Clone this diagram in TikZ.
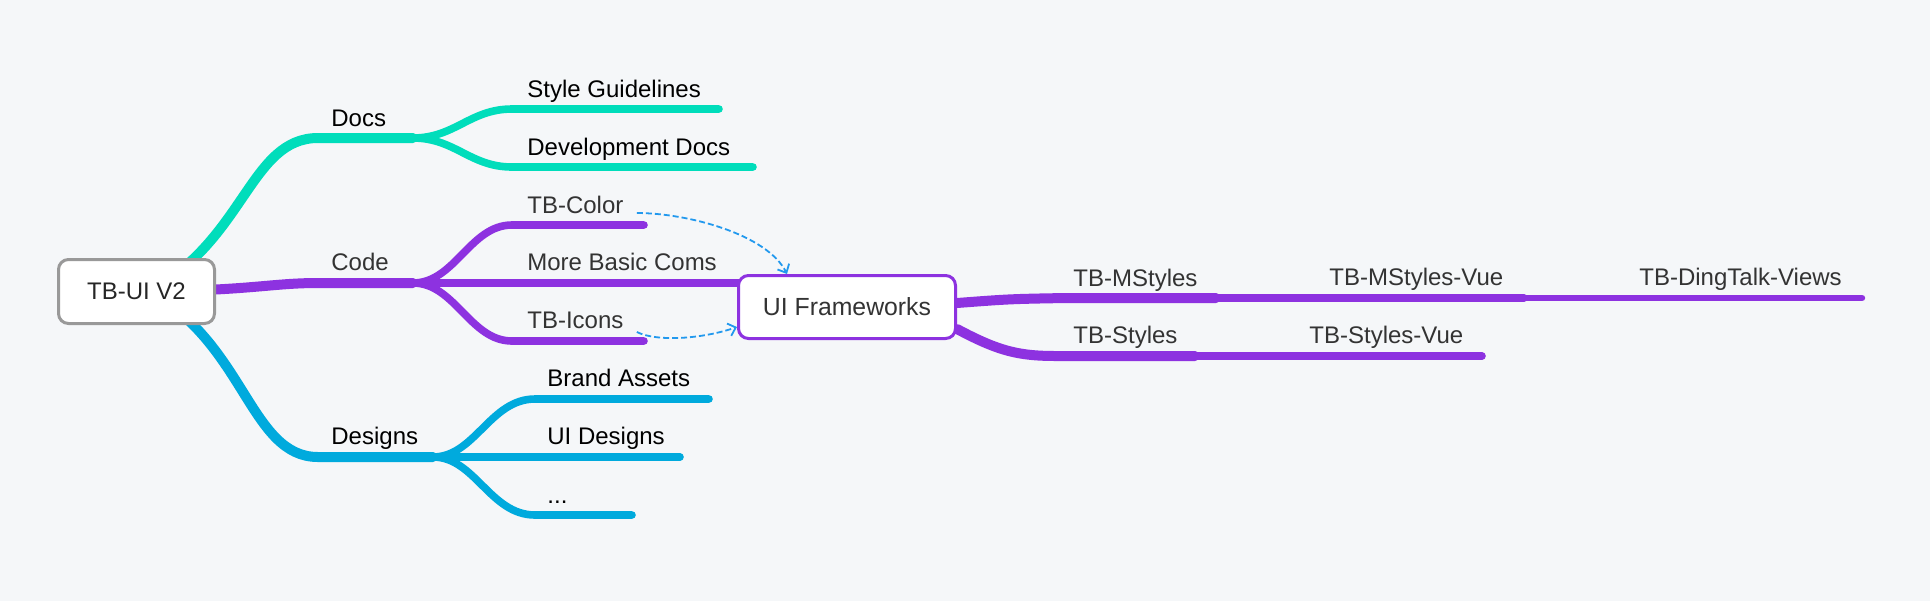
\documentclass[tikz,border=0pt]{standalone}
\usepackage{fontspec}
\setmainfont{Liberation Sans}
\usepackage{tikz}
\usetikzlibrary{arrows.meta,backgrounds}
\usepackage{xcolor}
\definecolor{bgcol}{HTML}{F5F7F9}
\definecolor{docscol}{HTML}{00DDBB}
\definecolor{codecol}{HTML}{8D32E0}
\definecolor{designcol}{HTML}{00AADD}
\definecolor{linkcol}{HTML}{2299EE}
\definecolor{textcol}{HTML}{333333}

\begin{document}
\begin{tikzpicture}[
    x=0.5pt, y=-0.5pt,
    rootbox/.style={draw=gray!80, fill=white, line width=1.5pt, rounded corners=5pt,
        minimum width=78pt, minimum height=32pt, align=center,
        font=\fontsize{12}{14}\selectfont, text=black!85},
    framebox/.style={draw=codecol, fill=white, line width=1.5pt, rounded corners=5pt,
        minimum width=108.5pt, minimum height=31.5pt, align=center,
        font=\fontsize{12.4}{14}\selectfont, text=textcol},
    lbl/.style={anchor=base west, inner sep=0pt, font=\fontsize{12}{14}\selectfont},
    lvlone/.style={line width=5pt, line cap=round},
    lvltwo/.style={line width=3.8pt, line cap=round},
    lvlthree/.style={line width=3.2pt, line cap=round},
    relarrow/.style={draw=linkcol, line width=0.9pt, dash pattern=on 3pt off 1.5pt,
        -{Straight Barb[length=3.5pt, width=6.5pt]}},
]
\useasboundingbox (0,0) rectangle (1930,601);

% Central topics
\node[rootbox] (root) at (136.5,291.5) {TB-UI V2};
\node[framebox] (frame) at (847,307) {UI Frameworks};

% Main branches
\node[lbl] (docs) at (331,126) {Docs};
\node[lbl, text=textcol] (code) at (331,270) {Code};
\node[lbl] (designs) at (331,444) {Designs};

% Docs
\node[lbl] (style) at (527,97) {Style Guidelines};
\node[lbl] (devdocs) at (527,155) {Development Docs};

% Code
\node[lbl, text=textcol] (tbcolor) at (527,213) {TB-Color};
\node[lbl, text=textcol] (basic) at (527,270) {More Basic Coms};
\node[lbl, text=textcol] (tbicons) at (527,328) {TB-Icons};

% Designs
\node[lbl] (brand) at (547,386) {Brand Assets};
\node[lbl] (uidesign) at (547,444) {UI Designs};
\node[lbl] (dots) at (547,503) {...};

% Frameworks
\node[lbl, text=textcol] (mstyles) at (1073,286) {TB-MStyles};
\node[lbl, text=textcol] (mstylesvue) at (1329,285) {TB-MStyles-Vue};
\node[lbl, text=textcol] (dingtalk) at (1639,285) {TB-DingTalk-Views};
\node[lbl, text=textcol] (styles) at (1073,343) {TB-Styles};
\node[lbl, text=textcol] (stylesvue) at (1309,343) {TB-Styles-Vue};

% Line ends
\coordinate (docsL) at (318,138);
\coordinate (docsF) at (413,138);
\coordinate (styleL) at (512,109);
\coordinate (styleR) at (719,109);
\coordinate (devL) at (512,167);
\coordinate (devR) at (753,167);
\coordinate (codeL) at (318,283);
\coordinate (codeF) at (413,283);
\coordinate (colorL) at (512,225);
\coordinate (colorR) at (644,225);
\coordinate (iconsL) at (512,341);
\coordinate (iconsR) at (644,341);
\coordinate (designsL) at (318,457);
\coordinate (designsF) at (433,457);
\coordinate (brandL) at (535,399);
\coordinate (brandR) at (709,399);
\coordinate (uidR) at (680,457);
\coordinate (dotsL) at (535,515);
\coordinate (dotsR) at (632,515);
\coordinate (msL) at (1066,298);
\coordinate (msR) at (1216,298);
\coordinate (msvR) at (1524,298);
\coordinate (dtR) at (1862,298);
\coordinate (stL) at (1057,356);
\coordinate (stR) at (1195,356);
\coordinate (stvR) at (1482,356);

% Branches
\begin{scope}[on background layer]
\fill[bgcol] (0,0) rectangle (1930,601);
\draw[lvlone, docscol] ([xshift=6pt]root.center) .. controls (245,240) and (250,138) .. (docsL) -- (docsF);
\draw[lvlone, codecol] (root.center) .. controls (250,291) and (270,283) .. (codeL) -- (codeF);
\draw[lvlone, designcol] ([xshift=6pt]root.center) .. controls (245,343) and (250,457) .. (designsL) -- (designsF);
\draw[lvltwo, docscol] (docsF) .. controls (455,138) and (470,109) .. (styleL) -- (styleR);
\draw[lvltwo, docscol] (docsF) .. controls (455,138) and (470,167) .. (devL) -- (devR);
\draw[lvltwo, codecol] (codeF) .. controls (455,283) and (470,225) .. (colorL) -- (colorR);
\draw[lvltwo, codecol] (codeF) -- (codeF -| frame.center);
\draw[lvltwo, codecol] (codeF) .. controls (455,283) and (470,341) .. (iconsL) -- (iconsR);
\draw[lvltwo, designcol] (designsF) .. controls (475,457) and (490,399) .. (brandL) -- (brandR);
\draw[lvltwo, designcol] (designsF) -- (uidR);
\draw[lvltwo, designcol] (designsF) .. controls (475,457) and (490,515) .. (dotsL) -- (dotsR);
\draw[lvlone, codecol] ([yshift=2pt]frame.east) .. controls (1010,299) .. (msL) -- (msR);
\draw[lvltwo, codecol] (msR) -- (msvR);
\draw[lvlthree, codecol] (msvR) -- (dtR);
\draw[lvlone, codecol] ([yshift=-11pt]frame.east) .. controls (1000,352) and (1020,356) .. (stL) -- (stR);
\draw[lvltwo, codecol] (stR) -- (stvR);
\end{scope}

% Relations
\draw[relarrow] ([xshift=6.5pt]tbcolor.base east) .. controls +(50,0) and +(-20,-40) .. ([xshift=25pt]frame.north west);
\draw[relarrow] ([xshift=6.5pt, yshift=-2pt]tbicons.base east) .. controls +(20,10) and +(-35,12) .. ([yshift=-10pt]frame.west);

\end{tikzpicture}
\end{document}
